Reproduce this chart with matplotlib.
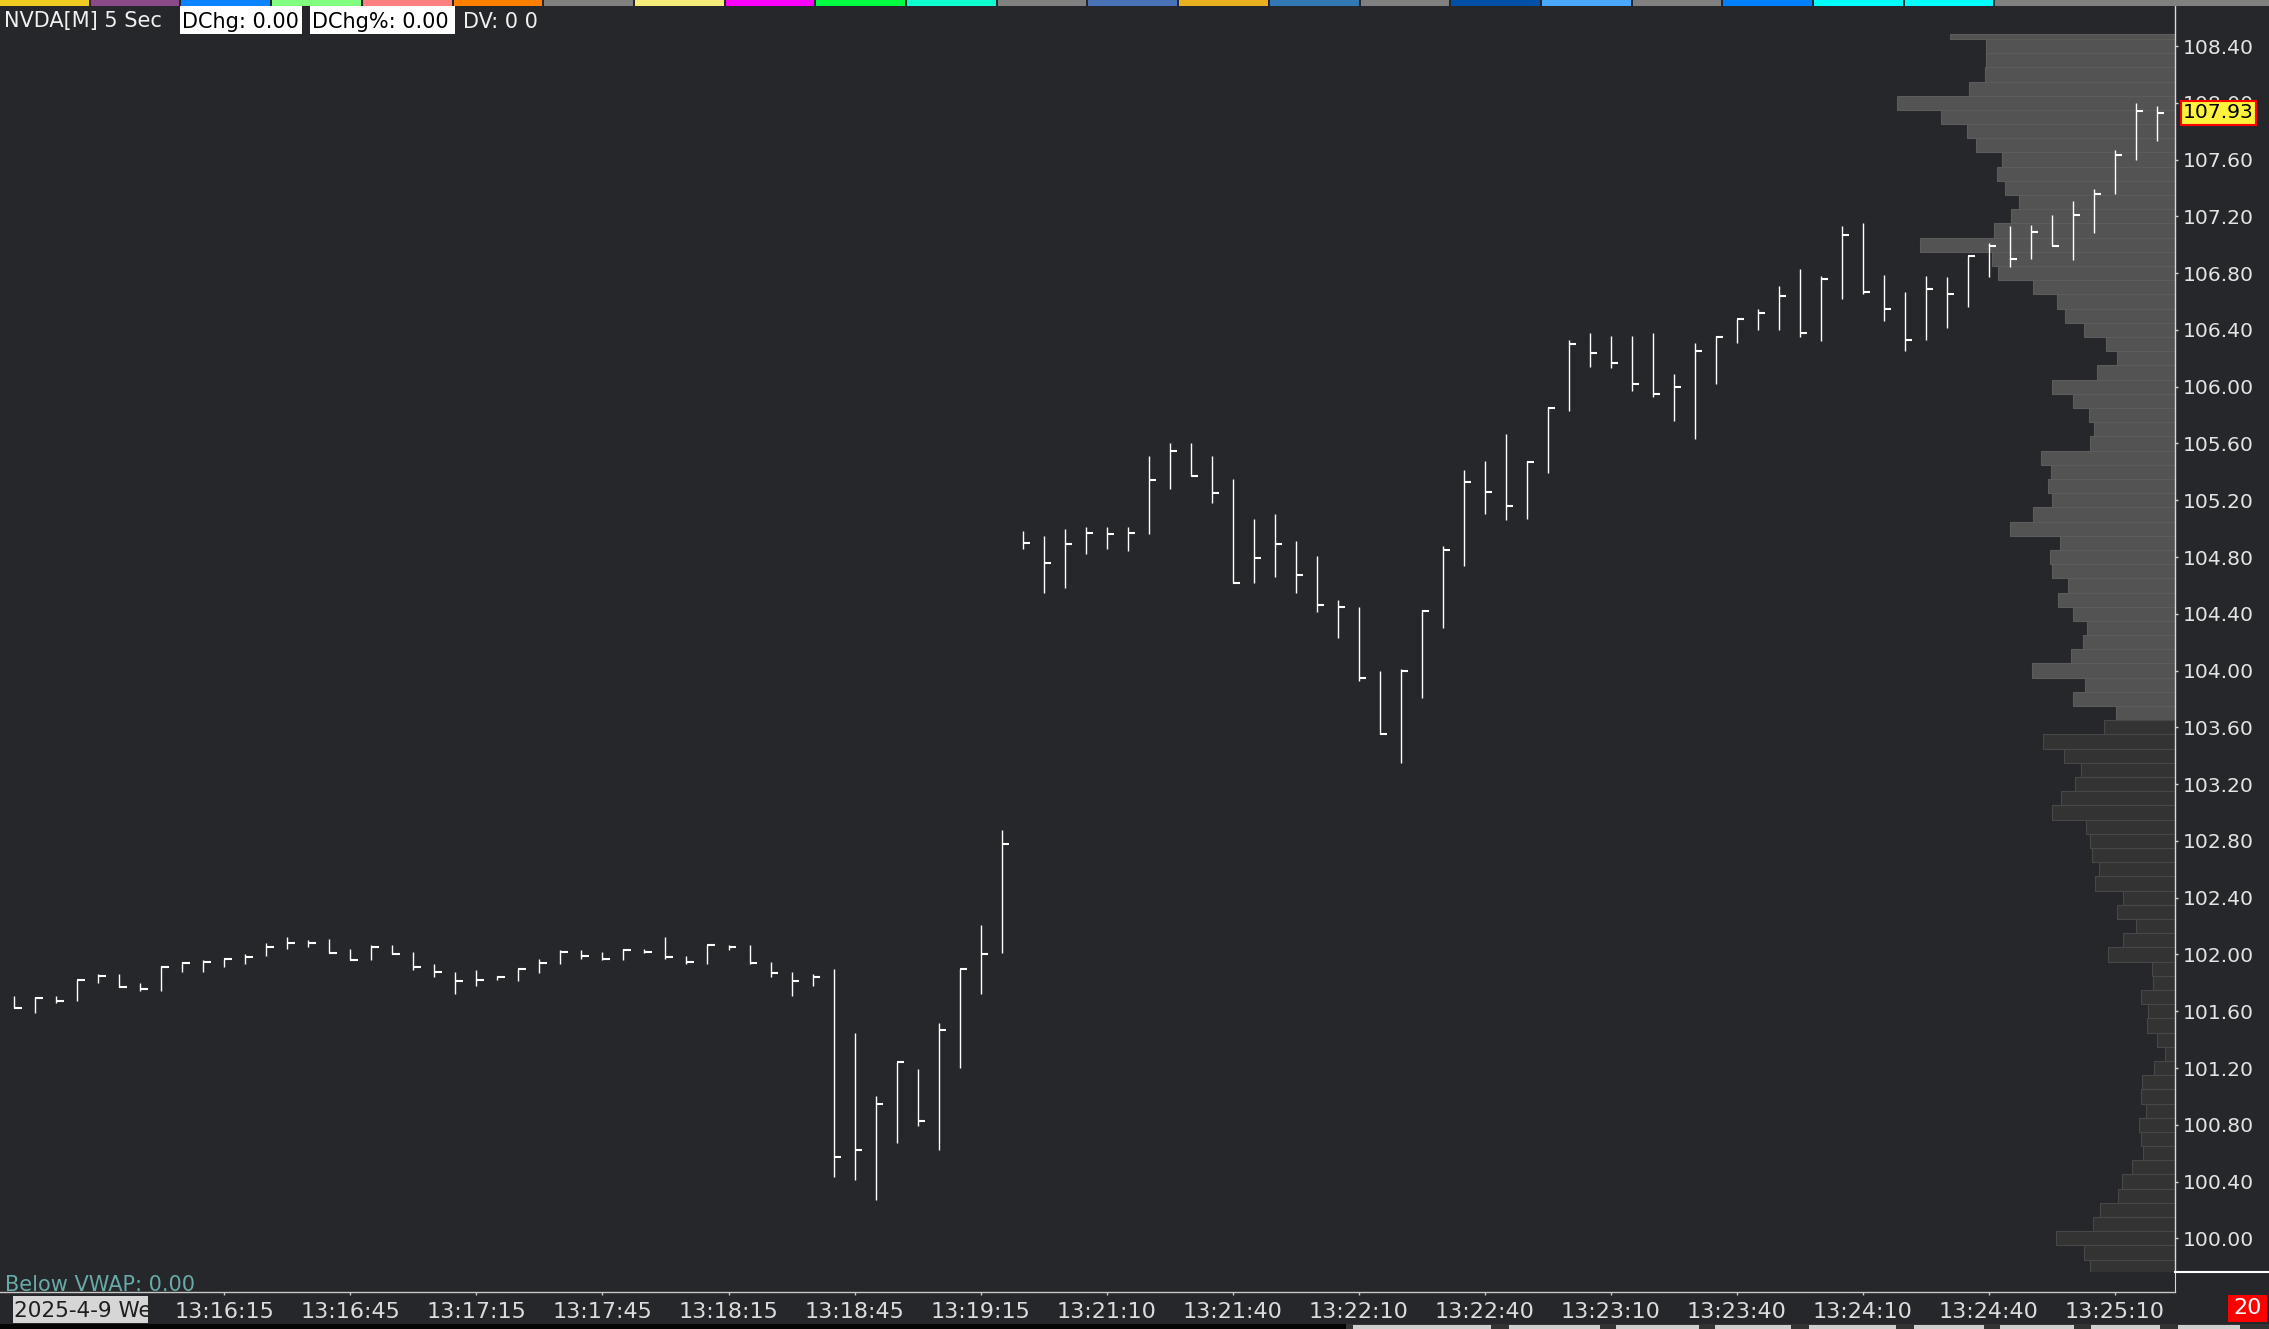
import matplotlib
matplotlib.use('Agg')
import matplotlib.pyplot as plt
from matplotlib.patches import Rectangle
from matplotlib.lines import Line2D
import matplotlib.transforms as mtransforms
import numpy as np

# ---------------- data ----------------
highs = [101.71, 101.70, 101.71, 101.82, 101.86, 101.86, 101.80, 101.92, 101.95, 101.96,
         101.97, 102.00, 102.08, 102.12, 102.10, 102.11, 102.04, 102.07, 102.07, 102.02,
         101.93, 101.88, 101.89, 101.85, 101.90, 101.97, 102.03, 102.03, 102.02, 102.04,
         102.04, 102.12, 101.99, 102.07, 102.07, 102.07, 101.95, 101.88, 101.86, 101.90,
         101.45, 101.00, 101.24, 101.19, 101.52, 101.90, 102.21, 102.88, 104.98, 104.95,
         105.00, 105.01, 105.01, 105.01, 105.51, 105.60, 105.60, 105.51, 105.35, 105.07,
         105.10, 104.91, 104.81, 104.50, 104.45, 104.00, 104.01, 104.43, 104.88, 105.41,
         105.48, 105.67, 105.48, 105.86, 106.33, 106.38, 106.36, 106.36, 106.38, 106.09,
         106.31, 106.36, 106.48, 106.55, 106.71, 106.83, 106.78, 107.13, 107.15, 106.79,
         106.67, 106.78, 106.77, 106.92, 107.01, 107.13, 107.14, 107.21, 107.31, 107.39,
         107.67, 108.00, 107.98]
lows = [101.62, 101.59, 101.66, 101.67, 101.80, 101.77, 101.74, 101.74, 101.88, 101.88,
        101.91, 101.93, 101.99, 102.04, 102.05, 102.01, 101.96, 101.96, 102.00, 101.89,
        101.84, 101.72, 101.78, 101.82, 101.81, 101.87, 101.93, 101.97, 101.96, 101.96,
        102.01, 101.97, 101.93, 101.93, 102.03, 101.93, 101.84, 101.71, 101.78, 100.43,
        100.41, 100.27, 100.67, 100.79, 100.62, 101.20, 101.72, 102.01, 104.86, 104.55,
        104.58, 104.82, 104.86, 104.84, 104.96, 105.28, 105.37, 105.18, 104.62, 104.62,
        104.66, 104.55, 104.41, 104.23, 103.93, 103.55, 103.35, 103.81, 104.30, 104.74,
        105.10, 105.06, 105.07, 105.39, 105.83, 106.14, 106.13, 105.97, 105.93, 105.76,
        105.63, 106.02, 106.31, 106.40, 106.40, 106.35, 106.32, 106.62, 106.65, 106.46,
        106.25, 106.33, 106.41, 106.56, 106.77, 106.84, 106.90, 106.99, 106.89, 107.08,
        107.36, 107.60, 107.73]
closes = [101.62, 101.69, 101.67, 101.82, 101.85, 101.77, 101.76, 101.91, 101.94, 101.95,
          101.97, 101.98, 102.05, 102.08, 102.08, 102.01, 101.96, 102.05, 102.00, 101.91,
          101.88, 101.81, 101.82, 101.84, 101.90, 101.94, 102.02, 101.99, 101.97, 102.03,
          102.02, 101.98, 101.95, 102.07, 102.05, 101.94, 101.87, 101.81, 101.84, 100.57,
          100.62, 100.95, 101.24, 100.83, 101.47, 101.90, 102.00, 102.78, 104.90, 104.76,
          104.89, 104.97, 104.96, 104.97, 105.34, 105.55, 105.37, 105.25, 104.62, 104.79,
          104.89, 104.67, 104.46, 104.45, 103.95, 103.55, 104.00, 104.42, 104.85, 105.33,
          105.26, 105.16, 105.47, 105.85, 106.30, 106.24, 106.17, 106.02, 105.95, 106.00,
          106.25, 106.35, 106.48, 106.52, 106.64, 106.38, 106.76, 107.07, 106.67, 106.55,
          106.33, 106.69, 106.65, 106.92, 106.99, 106.90, 107.09, 106.99, 107.21, 107.36,
          107.63, 107.94, 107.93]

time_labels = ['13:16:15', '13:16:45', '13:17:15', '13:17:45', '13:18:15', '13:18:45',
               '13:19:15', '13:21:10', '13:21:40', '13:22:10', '13:22:40', '13:23:10',
               '13:23:40', '13:24:10', '13:24:40', '13:25:10']
time_label_bars = [10, 16, 22, 28, 34, 40, 46, 52, 58, 64, 70, 76, 82, 88, 94, 100]

profile_prices = [108.5, 108.4, 108.3, 108.2, 108.1, 108.0, 107.9, 107.8, 107.7, 107.6,
                  107.5, 107.4, 107.3, 107.2, 107.1, 107.0, 106.9, 106.8, 106.7, 106.6,
                  106.5, 106.4, 106.3, 106.2, 106.1, 106.0, 105.9, 105.8, 105.7, 105.6,
                  105.5, 105.4, 105.3, 105.2, 105.1, 105.0, 104.9, 104.8, 104.7, 104.6,
                  104.5, 104.4, 104.3, 104.2, 104.1, 104.0, 103.9, 103.8, 103.7, 103.6,
                  103.5, 103.4, 103.3, 103.2, 103.1, 103.0, 102.9, 102.8, 102.7, 102.6,
                  102.5, 102.4, 102.3, 102.2, 102.1, 102.0, 101.9, 101.8, 101.7, 101.6,
                  101.5, 101.4, 101.3, 101.2, 101.1, 101.0, 100.9, 100.8, 100.7, 100.6,
                  100.5, 100.4, 100.3, 100.2, 100.1, 100.0, 99.9, 99.8]
profile_volume = [225, 189, 189, 190, 206, 278, 234, 208, 199, 173,
                  178, 170, 156, 164, 181, 255, 183, 177, 142, 118,
                  110, 91, 69, 58, 78, 123, 102, 86, 81, 85,
                  134, 124, 127, 123, 142, 165, 115, 125, 123, 107,
                  117, 102, 88, 92, 104, 143, 90, 102, 59, 71,
                  132, 111, 94, 100, 114, 123, 89, 85, 83, 76,
                  80, 52, 58, 39, 52, 67, 23, 22, 34, 27,
                  28, 18, 10, 21, 33, 34, 29, 36, 34, 32,
                  43, 53, 57, 75, 82, 119, 91, 85]
profile_high = 108.485
value_area_low = 103.65
last_price = 107.93
price_ticks = [100.0, 100.4, 100.8, 101.2, 101.6, 102.0, 102.4, 102.8, 103.2, 103.6,
               104.0, 104.4, 104.8, 105.2, 105.6, 106.0, 106.4, 106.8, 107.2, 107.6,
               108.0, 108.4]

# ---------------- layout (pixels) ----------------
W, H, DPI = 2269, 1329, 100
BG = '#26272a'
X_RIGHT = 2175
Y_TOP = 6
Y_MAIN_BOT = 1272
Y_SUB_BOT = 1292


def fx(px):
    return px / W


def fy(py):
    return 1 - py / H


fig = plt.figure(figsize=(W / DPI, H / DPI), dpi=DPI)
fig.patch.set_facecolor(BG)

rect_main = [0, fy(Y_MAIN_BOT), fx(X_RIGHT), (Y_MAIN_BOT - Y_TOP) / H]
axp = fig.add_axes(rect_main)
ax = fig.add_axes(rect_main)
sub = fig.add_axes([0, fy(Y_SUB_BOT), fx(X_RIGHT), (Y_SUB_BOT - Y_MAIN_BOT) / H], sharex=ax)

ylim = (99.763, 108.682)
xlim = (-0.69, 102.88)

# ---- volume profile (behind) ----
pp = np.array(profile_prices)
vol = np.array(profile_volume)
bottoms = pp - 0.05
tops = np.minimum(pp + 0.05, profile_high)
in_va = pp >= value_area_low
axp.barh(bottoms, vol, height=tops - bottoms, left=0, align='edge',
         color=['#535353' if v else '#333333' for v in in_va],
         edgecolor=['#5c5c5c' if v else '#474747' for v in in_va],
         linewidth=0.8)
axp.set_xlim(X_RIGHT, 0)
axp.set_ylim(*ylim)
axp.set_facecolor(BG)
axp.set_xticks([])
axp.set_yticks([])
for s in axp.spines.values():
    s.set_visible(False)

# ---- OHLC (HLC) bars ----
ax.set_zorder(axp.get_zorder() + 1)
ax.patch.set_visible(False)
idx = np.arange(len(closes))
ax.vlines(idx, lows, highs, color='white', lw=1.0)
ax.hlines(closes, idx, idx + 0.37, color='white', lw=1.5)
ax.set_xlim(*xlim)
ax.set_ylim(*ylim)
for k, s in ax.spines.items():
    s.set_visible(k == 'right')
ax.spines['right'].set_color('#d8d8d8')
ax.spines['right'].set_linewidth(1.0)
ax.yaxis.tick_right()
ax.set_yticks(price_ticks)
ax.set_yticklabels([f'{p:.2f}' for p in price_ticks])
ax.tick_params(axis='y', direction='out', length=2.4, width=1.0, color='#d0d0d0',
               labelcolor='#e4e4e4', labelsize=14.6, pad=3)
ax.tick_params(axis='x', bottom=False, labelbottom=False)

# current price label
trans = mtransforms.blended_transform_factory(fig.transFigure, ax.transData)
ax.text(fx(2218.5), last_price, f'{last_price:.2f}', transform=trans, ha='center',
        va='center', fontsize=14.6, color='black', clip_on=False, zorder=10,
        bbox=dict(boxstyle='square,pad=0.12', fc='#fff23c', ec='#ff0000', lw=1.5))

# ---- sub graph / time axis ----
sub.set_facecolor(BG)
for k, s in sub.spines.items():
    s.set_visible(k in ('right', 'bottom'))
sub.spines['right'].set_color('#d8d8d8')
sub.spines['bottom'].set_color('#c8c8c8')
sub.spines['bottom'].set_linewidth(1.0)
sub.set_yticks([])
sub.set_xticks(time_label_bars)
sub.set_xticklabels(time_labels)
sub.tick_params(axis='x', direction='out', length=2.4, width=1.0, color='#c8c8c8',
                labelcolor='#dcdcdc', labelsize=16, pad=5)
subtrans = mtransforms.blended_transform_factory(fig.transFigure, sub.transAxes)
sub.text(fx(5), 0.05, 'Below VWAP: 0.00', transform=subtrans, ha='left', va='baseline',
         fontsize=15, color='#68aaa8', clip_on=True)

# ---- top colour strip ----
strip_colors = ['#f0cc20', '#8a4a8a', '#0a84ff', '#80ff80', '#ff8080', '#ff8000',
                '#808080', '#f5ec7a', '#ff00ff', '#00ff40', '#10ffd0', '#808080',
                '#4a72b8', '#e8b020', '#3278b4', '#808080', '#0050a8', '#4aa8ff',
                '#808080', '#0080ff', '#00ffff', '#00ffff']
seg = 90.7
for i, c in enumerate(strip_colors):
    fig.patches.append(Rectangle((fx(i * seg), fy(Y_TOP)), fx(seg - 2), Y_TOP / H,
                                 transform=fig.transFigure, fc=c, ec='none', zorder=5))
fig.patches.append(Rectangle((fx(len(strip_colors) * seg), fy(Y_TOP)),
                             fx(W - len(strip_colors) * seg), Y_TOP / H,
                             transform=fig.transFigure, fc='#808080', ec='none', zorder=5))

# ---- header texts ----
fig.text(fx(4), fy(27.5), 'NVDA[M] 5 Sec', fontsize=15, color='#f0f0f0', va='baseline')
fig.patches.append(Rectangle((fx(180), fy(34)), fx(122), 28 / H, transform=fig.transFigure,
                             fc='white', ec='none', zorder=4))
fig.text(fx(182), fy(27.5), 'DChg: 0.00', fontsize=15, color='black', va='baseline', zorder=6)
fig.patches.append(Rectangle((fx(310), fy(34)), fx(145), 28 / H, transform=fig.transFigure,
                             fc='white', ec='none', zorder=4))
fig.text(fx(312), fy(27.5), 'DChg%: 0.00', fontsize=15, color='black', va='baseline', zorder=6)
fig.text(fx(463), fy(27.5), 'DV: 0 0', fontsize=15, color='#f0f0f0', va='baseline')

# ---- separators / right column ----
fig.lines.append(Line2D([fx(X_RIGHT), 1], [fy(Y_MAIN_BOT), fy(Y_MAIN_BOT)],
                        transform=fig.transFigure, color='white', lw=1.5))

# date box
fig.patches.append(Rectangle((fx(13), fy(1323)), fx(135), 27 / H, transform=fig.transFigure,
                             fc='#d6d6d6', ec='none', zorder=4))
dt = fig.text(fx(14), fy(1317), '2025-4-9 We', fontsize=15.5, color='#1e1e1e',
              va='baseline', zorder=6)
clip_rect = Rectangle((fx(13), fy(1323)), fx(135), 27 / H, transform=fig.transFigure)
dt.set_clip_path(clip_rect)

# red box
fig.patches.append(Rectangle((fx(2228), fy(1322)), fx(39), 27 / H, transform=fig.transFigure,
                             fc='#ff0000', ec='none', zorder=4))
fig.text(fx(2247.5), fy(1308.5), '20', fontsize=16, color='white', ha='center',
         va='center', zorder=6)

# bottom tab strip
fig.patches.append(Rectangle((0, 0), fx(1346), 5 / H, transform=fig.transFigure,
                             fc='#050505', ec='none', zorder=4))
fig.patches.append(Rectangle((fx(1346), 0), fx(W - 1346), 5 / H, transform=fig.transFigure,
                             fc='#333333', ec='none', zorder=4))
tabs = [(1353, 1491), (1509, 1600), (1616, 1699), (1715, 1791), (1809, 1896),
        (1914, 1984), (2000, 2074), (2091, 2160), (2178, 2240)]
for a, b in tabs:
    fig.patches.append(Rectangle((fx(a), 0), fx(b - a), 4 / H, transform=fig.transFigure,
                                 fc='#cfcfcf', ec='none', zorder=5))

fig.savefig('out.png', dpi=DPI, facecolor=BG)
